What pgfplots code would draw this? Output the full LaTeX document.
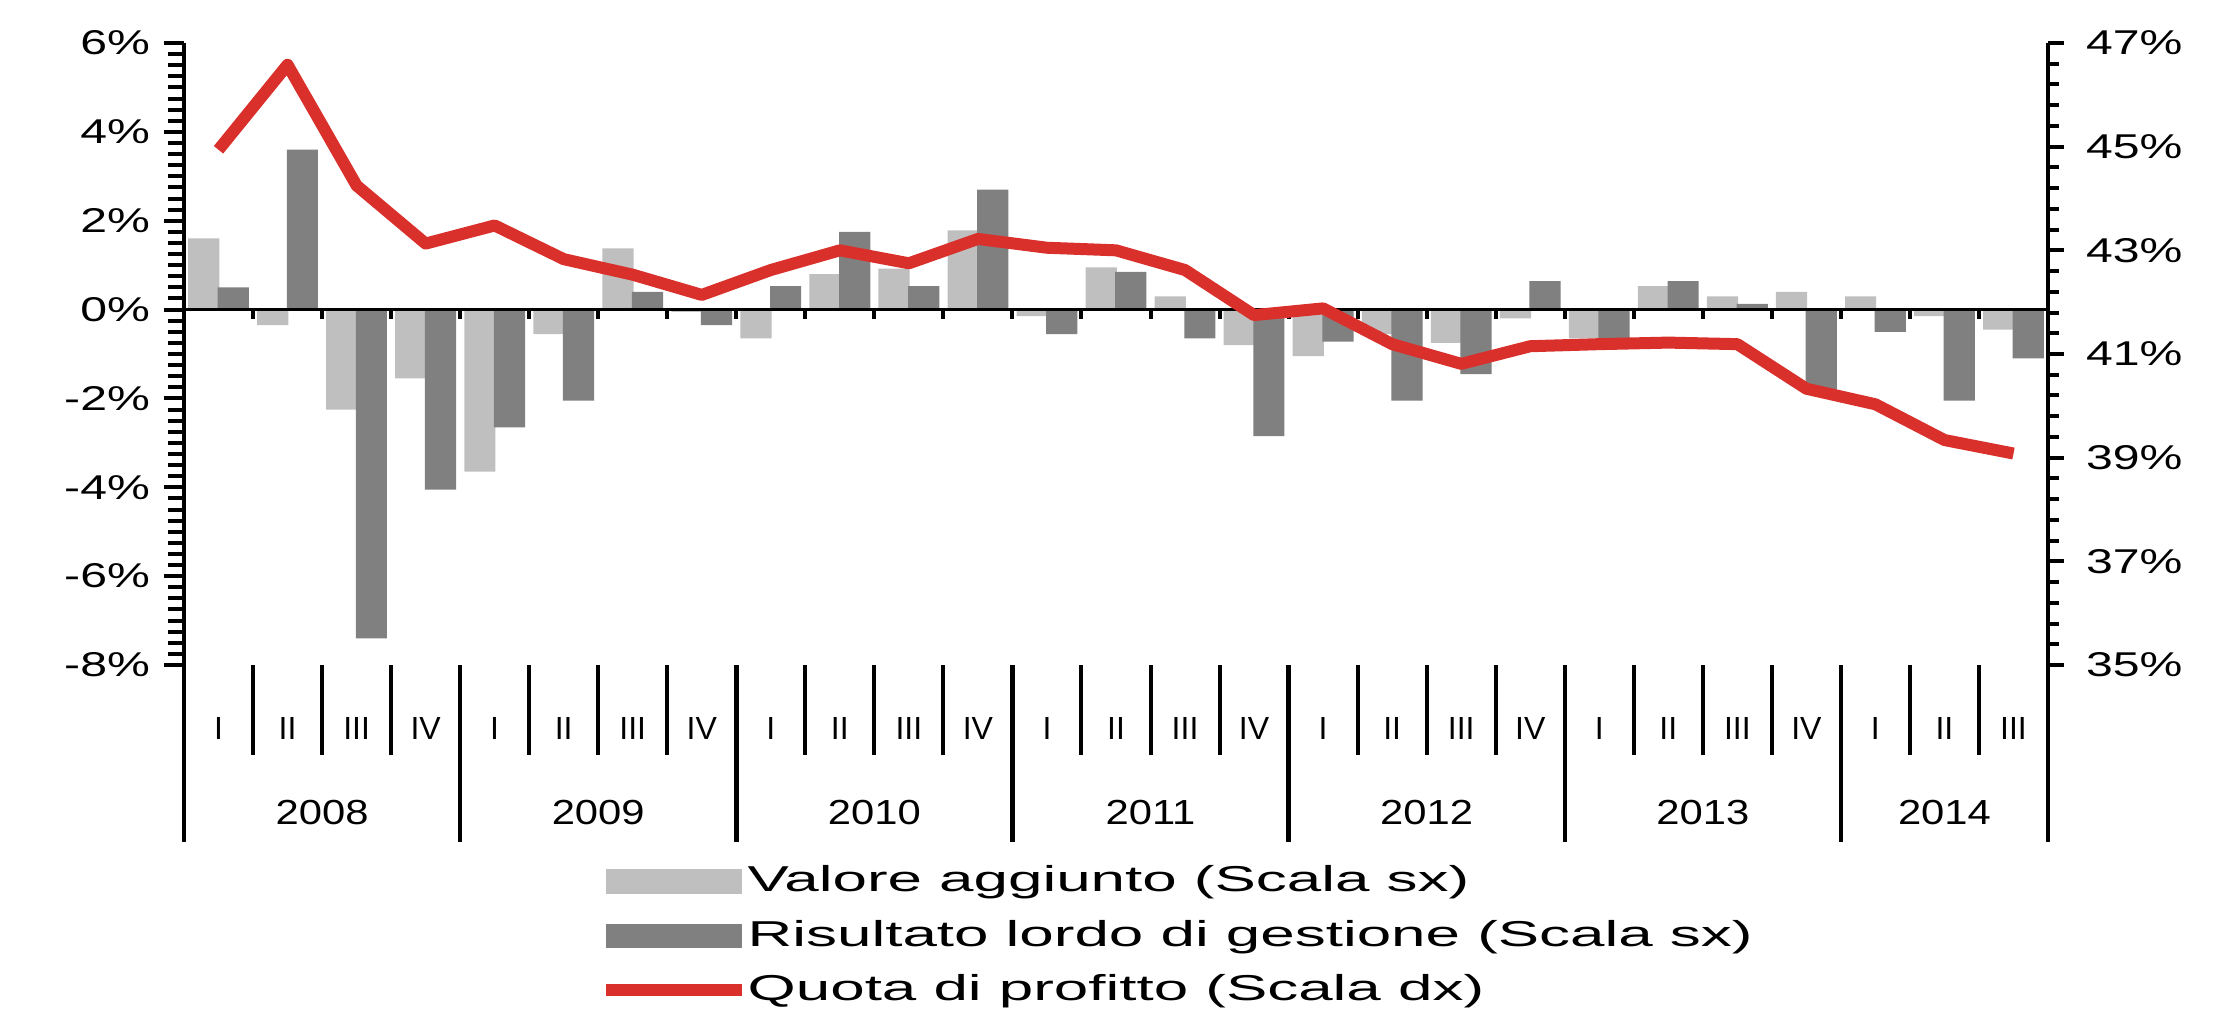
\documentclass[border=0pt]{standalone}
\usepackage{fontspec}
\setmainfont{Liberation Sans}
\newfontfamily\tickfont[FakeStretch=1.4]{Liberation Sans}
\newfontfamily\legfont[FakeStretch=1.72]{Liberation Sans}
\newfontfamily\yearfont[FakeStretch=1.2]{Liberation Sans}
\usepackage{pgfplots}
\usepackage{pgfplotstable}
\pgfplotsset{compat=1.18}

\definecolor{vabar}{HTML}{BFBFBF}
\definecolor{rlbar}{HTML}{808080}
\definecolor{quota}{HTML}{D9302C}

% quarters 2008 I ... 2014 III: value added, gross operating result (% change), profit share (%)
\pgfplotstableread{
q  va     rl     qp
0   1.60   0.50  44.94
1  -0.35   3.60  46.58
2  -2.25  -7.40  44.25
3  -1.55  -4.05  43.13
4  -3.65  -2.65  43.48
5  -0.55  -2.05  42.83
6   1.38   0.40  42.53
7  -0.05  -0.35  42.14
8  -0.65   0.53  42.62
9   0.80   1.75  43.00
10  0.92   0.53  42.75
11  1.78   2.70  43.22
12 -0.15  -0.55  43.05
13  0.95   0.85  43.00
14  0.30  -0.65  42.62
15 -0.80  -2.85  41.75
16 -1.05  -0.72  41.88
17 -0.55  -2.05  41.19
18 -0.75  -1.45  40.81
19 -0.20   0.64  41.15
20 -0.65  -0.65  41.19
21  0.53   0.64  41.22
22  0.30   0.13  41.19
23  0.40  -1.80  40.33
24  0.30  -0.50  40.03
25 -0.15  -2.05  39.34
26 -0.45  -1.10  39.08
}\datatable

\pgfplotsset{
  twin/.style={
    width=466pt, height=155.5pt, scale only axis,
    at={(0,0)}, anchor=south west,
    xmin=-0.5, xmax=26.5,
    tick align=outside,
    every tick/.style={black, line width=1pt},
    tick label style={font=\tickfont\fontsize{8.6}{10}\selectfont},
  },
}

\begin{document}
\begin{tikzpicture}
\begin{axis}[
  twin, clip=false,
  axis x line*=bottom, axis y line*=left,
  x axis line style={draw=none},
  y axis line style={-, line width=1.1pt},
  ymin=-8, ymax=6,
  ytick={-8,-6,-4,-2,0,2,4,6},
  yticklabels={-8\%,-6\%,-4\%,-2\%,0\%,2\%,4\%,6\%},
  minor y tick num=7,
  major tick length=5pt, minor tick length=4pt,
  xtick={0,...,26},
  xticklabels={I,II,III,IV,I,II,III,IV,I,II,III,IV,I,II,III,IV,I,II,III,IV,I,II,III,IV,I,II,III},
  xtick style={draw=none},
  xticklabel style={anchor=center, yshift=-10.75pt, font=\fontsize{8}{9.6}\selectfont},
  extra x ticks={1.5,5.5,9.5,13.5,17.5,21.5,25},
  extra x tick labels={2008,2009,2010,2011,2012,2013,2014},
  extra x tick style={tick style={draw=none},
    xticklabel style={yshift=-21.25pt, font=\yearfont\fontsize{8.7}{10}\selectfont}},
  legend style={draw=none, fill=none, at={(axis description cs:0.2226,-0.318)},
    anchor=north west, inner sep=0pt, row sep=4.6pt,
    font=\legfont\fontsize{9}{10.8}\selectfont,
    nodes={inner sep=0pt, text height=7pt, text depth=2pt},
    /tikz/every even column/.append style={column sep=2.5pt}},
  legend cell align=left,
]
\addplot[ybar, bar width=7.8pt, bar shift=-3.7pt, fill=vabar, draw=none,
  legend image code/.code={\fill[vabar] (0pt,-3.1pt) rectangle (34pt,3.1pt);}]
  table[x=q, y=va]{\datatable};
\addlegendentry{Valore aggiunto (Scala sx)}
\addplot[ybar, bar width=7.8pt, bar shift=3.7pt, fill=rlbar, draw=none,
  legend image code/.code={\fill[rlbar] (0pt,-3.1pt) rectangle (34pt,3.1pt);}]
  table[x=q, y=rl]{\datatable};
\addlegendentry{Risultato lordo di gestione (Scala sx)}
\addlegendimage{legend image code/.code={\draw[quota, line width=3pt] (0pt,0pt) -- (34pt,0pt);}}
\addlegendentry{Quota di profitto (Scala dx)}
% zero line with quarter ticks
\draw[line width=0.9pt] (axis cs:-0.5,0) -- (axis cs:26.5,0);
\pgfplotsinvokeforeach{0.5,1.5,...,25.5}{
  \draw[line width=1pt] (axis cs:#1,0) -- ++(0pt,-2.3pt);
}
% two-level category separators below the plot
\pgfplotsinvokeforeach{0.5,1.5,2.5,4.5,5.5,6.5,8.5,9.5,10.5,12.5,13.5,14.5,16.5,17.5,18.5,20.5,21.5,22.5,24.5,25.5}{
  \draw[line width=1pt] (axis cs:#1,-8) -- ++(0pt,-22.5pt);
}
\pgfplotsinvokeforeach{-0.5,3.5,7.5,11.5,15.5,19.5,23.5,26.5}{
  \draw[line width=1.1pt] (axis cs:#1,-8) -- ++(0pt,-44.25pt);
}
\end{axis}

\begin{axis}[
  twin,
  axis x line=none, axis y line*=right,
  y axis line style={-, line width=1.1pt},
  ymin=35, ymax=47,
  ytick={35,37,39,41,43,45,47},
  yticklabels={35\%,37\%,39\%,41\%,43\%,45\%,47\%},
  minor y tick num=4,
  major tick length=4pt, minor tick length=2.75pt,
  yticklabel style={xshift=2pt},
]
\addplot[quota, line width=3pt, line join=round, no markers]
  table[x=q, y=qp]{\datatable};
\end{axis}
\pgfresetboundingbox
\path (-46pt,-90.75pt) rectangle (512.75pt,166.25pt);
\end{tikzpicture}
\end{document}
